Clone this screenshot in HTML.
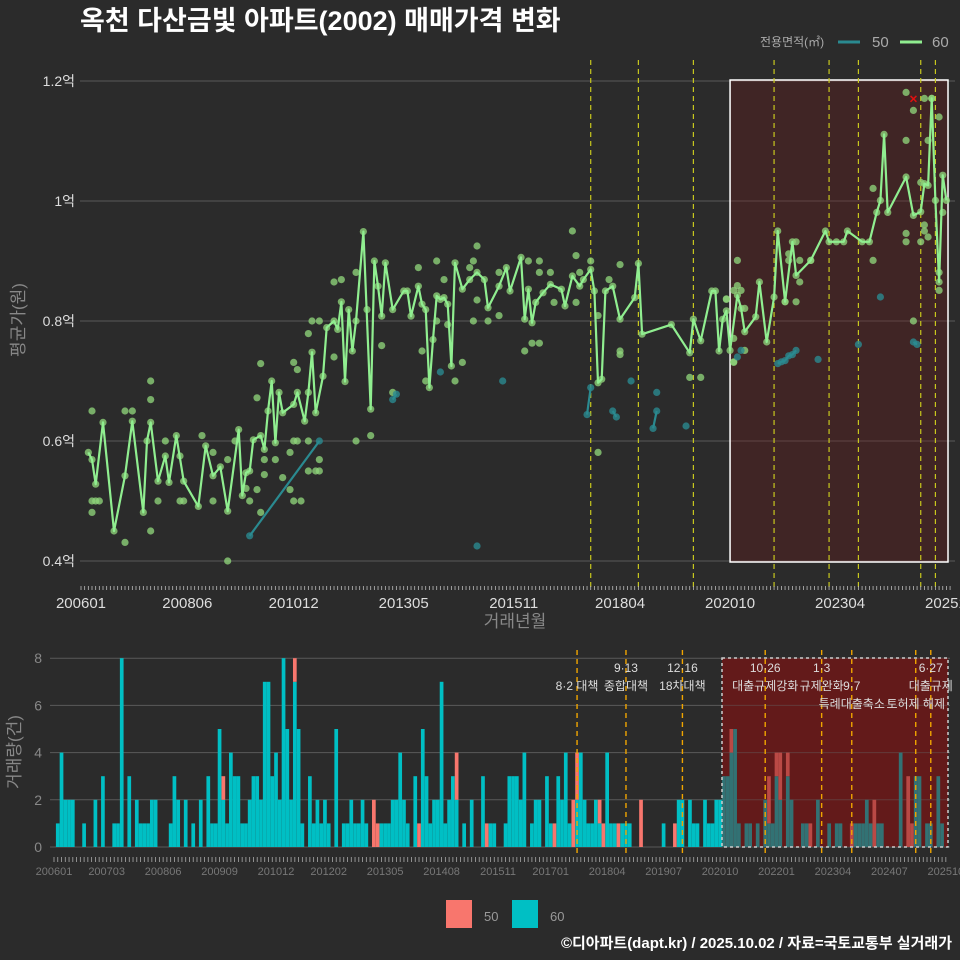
<!DOCTYPE html>
<html><head><meta charset="utf-8">
<style>
html,body{margin:0;padding:0;background:#2b2b2b;}
svg{display:block;font-family:"Liberation Sans","Noto Sans CJK KR",sans-serif;}
</style></head>
<body>
<svg id="chart" width="960" height="960" viewBox="0 0 960 960" xmlns="http://www.w3.org/2000/svg">
<rect x="0" y="0" width="960" height="960" fill="#2b2b2b"/>
<text x="80" y="30" fill="#ffffff" font-size="27" font-weight="bold">옥천 다산금빛 아파트(2002) 매매가격 변화</text>
<g>
<text x="760" y="46" fill="#aaaaaa" font-size="12">전용면적(㎡)</text>
<line x1="838" y1="42" x2="860" y2="42" stroke="#2a8a90" stroke-width="3"/>
<text x="872" y="47" fill="#aaaaaa" font-size="15">50</text>
<line x1="900" y1="42" x2="922" y2="42" stroke="#90ee90" stroke-width="3"/>
<text x="932" y="47" fill="#aaaaaa" font-size="15">60</text>
</g>
<g id="topPanel"></g>
<g id="botPanel"></g>
<g>
<rect x="446" y="900" width="26" height="28" fill="#f8766d"/>
<text x="484" y="921" fill="#999999" font-size="13">50</text>
<rect x="512" y="900" width="26" height="28" fill="#00bfc4"/>
<text x="550" y="921" fill="#999999" font-size="13">60</text>
</g>
<text x="952" y="948" text-anchor="end" fill="#ffffff" font-size="15" font-weight="bold">©디아파트(dapt.kr) / 2025.10.02 / 자료=국토교통부 실거래가</text>
</svg>
<script>
// ---- data ----
const topTickMonths = [0,29,58,88,118,147,177,207,237];
const topTickLabels = ["200601","200806","201012","201305","201511","201804","202010","202304","202510"];
const yTickVals = [0.4,0.6,0.8,1.0,1.2];
const yTickLabels = ["0.4억","0.6억","0.8억","1억","1.2억"];
const eventMonths = [139,152,167,189,204,212,229,233];
const line60Months = [2,3,4,6,9,12,14,17,18,19,21,23,24,26,28,32,34,36,38,40,43,44,45,46,47,49,50,51,52,53,54,55,58,59,61,62,63,64,66,67,69,70,71,72,73,74,75,77,79,80,81,82,83,85,88,89,90,92,93,94,95,96,97,98,99,100,101,102,104,106,108,110,111,114,116,117,120,121,122,123,124,126,128,131,132,134,136,137,139,140,141,142,143,145,147,151,152,153,161,166,167,169,172,173,174,175,176,177,179,180,181,184,185,187,189,190,192,194,195,199,203,204,206,208,209,213,215,217,218,219,220,225,227,229,230,231,232,233,234,235,236];
const line60Vals = [.581,.569,.528,.631,.450,.542,.633,.481,.600,.631,.533,.575,.531,.609,.533,.491,.592,.542,.557,.483,.619,.509,.547,.550,.602,.609,.586,.650,.700,.597,.681,.647,.661,.681,.633,.681,.748,.647,.708,.789,.800,.786,.832,.699,.819,.750,.800,.949,.653,.900,.858,.808,.897,.819,.850,.850,.808,.858,.828,.819,.689,.769,.842,.836,.839,.828,.725,.897,.853,.869,.881,.869,.822,.858,.889,.850,.906,.803,.853,.797,.831,.847,.861,.853,.825,.875,.858,.869,.886,.850,.697,.703,.850,.858,.803,.839,.896,.778,.794,.747,.803,.767,.850,.850,.750,.803,.817,.751,.843,.821,.782,.807,.865,.765,.840,.950,.832,.932,.876,.901,.950,.932,.932,.932,.950,.932,.932,.981,1.001,1.111,.981,1.040,.976,.982,1.029,1.026,1.171,1.001,.865,1.043,1.001];
const dot60Months = [3,3,4,5,3,12,14,12,19,19,19,21,23,27,27,28,33,36,36,40,40,42,46,45,48,49,48,49,50,50,53,55,57,58,60,57,58,59,62,62,64,65,65,58,59,62,63,65,69,71,75,69,75,79,82,78,85,92,93,94,97,99,97,100,102,104,108,106,107,107,108,111,114,114,121,122,125,125,123,125,128,129,134,135,136,135,139,141,141,144,147,147,147,166,169,176,178,176,179,178,180,179,181,178,181,178,193,193,195,196,196,192,195,199,216,216,225,227,225,225,225,229,230,230,231,231,229,230,232,234,234,234,227,235];
const dot60Vals = [.650,.500,.500,.500,.481,.650,.650,.431,.700,.669,.450,.500,.600,.575,.500,.500,.609,.581,.500,.569,.400,.600,.500,.521,.519,.481,.672,.729,.569,.544,.569,.539,.519,.500,.500,.581,.600,.600,.600,.550,.550,.550,.569,.731,.719,.779,.800,.800,.865,.869,.881,.740,.600,.609,.759,.819,.681,.889,.750,.700,.900,.869,.800,.794,.700,.731,.925,.889,.900,.800,.835,.800,.809,.881,.750,.900,.900,.881,.763,.763,.881,.831,.950,.909,.881,.831,.900,.809,.581,.869,.894,.750,.744,.706,.706,.836,.731,.837,.901,.851,.851,.859,.821,.771,.751,.732,.912,.901,.932,.901,.865,.832,.832,.901,1.021,.901,1.181,1.151,1.101,.946,.932,.932,.960,.950,.940,1.101,1.031,1.171,1.171,1.140,.881,.851,.800,.981];
const line50Months = [46,65,null,85,86,null,138,139,null,145,146,null,156,157,null,190,191,192,193,194,195,null,227,228];
const line50Vals = [.442,.600,null,.669,.678,null,.644,.689,null,.650,.640,null,.621,.650,null,.729,.732,.734,.742,.744,.751,null,.765,.761];
const dot50Months = [98,115,108,157,150,165,179,180,201,212,218];
const dot50Vals = [.715,.700,.425,.681,.700,.625,.740,.751,.736,.761,.840];
const maxMarkMonth = 227;
const maxMarkVal = 1.171;

const count60 = [0,1,4,2,2,2,0,0,1,0,0,2,0,3,0,0,1,1,8,0,3,0,2,1,1,1,2,2,0,0,0,1,3,2,0,2,0,1,0,2,0,3,1,1,5,2,1,4,3,3,1,1,2,3,3,2,7,7,3,4,2,8,5,2,7,5,1,0,3,1,2,1,2,1,0,5,0,1,1,2,1,1,2,1,0,0,0,1,1,1,2,2,4,2,1,0,3,0,5,3,1,2,2,7,1,2,3,2,0,1,0,2,0,0,3,0,1,1,0,0,1,3,3,3,2,4,0,1,2,2,0,3,1,0,3,2,4,1,0,2,4,2,1,1,2,1,0,4,1,1,0,1,1,1,0,0,0,0,0,0,0,0,1,0,0,0,2,2,0,2,1,1,0,2,1,1,2,2,3,3,4,5,1,0,1,1,0,1,0,2,1,1,3,2,0,3,2,0,0,1,1,0,0,2,0,0,1,0,1,1,0,0,0,1,1,1,2,1,0,1,1,0,0,0,0,4,0,0,0,3,3,0,1,1,0,3,1];
const count50 = [0,0,0,0,0,0,0,0,0,0,0,0,0,0,0,0,0,0,0,0,0,0,0,0,0,0,0,0,0,0,0,0,0,0,0,0,0,0,0,0,0,0,0,0,0,1,0,0,0,0,0,0,0,0,0,0,0,0,0,0,0,0,0,0,1,0,0,0,0,0,0,0,0,0,0,0,0,0,0,0,0,0,0,0,0,2,1,0,0,0,0,0,0,0,0,0,0,1,0,0,0,0,0,0,0,0,0,2,0,0,0,0,0,0,0,1,0,0,0,0,0,0,0,0,0,0,0,0,0,0,0,0,0,1,0,0,0,0,2,2,0,0,0,0,0,1,1,0,0,0,1,0,0,0,0,0,2,0,0,0,0,0,0,0,0,1,0,0,0,0,0,0,0,0,0,0,0,0,0,0,1,0,0,0,0,0,0,0,0,0,2,0,1,2,0,1,0,0,0,0,0,1,0,0,0,0,0,0,0,0,0,0,1,0,0,0,0,0,2,0,0,0,0,0,0,0,0,3,1,0,0,0,0,0,0,0,0];
const botTickMonths = [0,14,29,44,59,73,88,103,118,132,147,162,177,192,207,222,237];
const botTickLabels = ["200601","200703","200806","200909","201012","201202","201305","201408","201511","201701","201804","201907","202010","202201","202304","202407","202510"];
const countTicks = [0,2,4,6,8];
const noteTexts = ["8·2 대책","9·13","종합대책","12·16","18차대책","10·26","대출규제강화","1·3","규제완화","9·7","특례대출축소","토허제 해제","6·27","대출규제"];
const noteMonths = [139,152,152,167,167,189,189,204,204,212,212,229,233,233];
const noteRows = [1,0,1,0,1,0,1,0,1,1,2,2,0,1];

// ---- helpers ----
const NS = "http://www.w3.org/2000/svg";
function mk(tag, attrs, parent) { const e = document.createElementNS(NS, tag); for (const k in attrs) e.setAttribute(k, attrs[k]); parent.appendChild(e); return e; }
const xT = m => 81 + 3.667 * m;
const yT = v => 561 - (v - 0.4) * 600;
const xB = m => 54 + 3.763 * m;
const yB = c => 847 - c * 23.6;
const topG = document.getElementById("topPanel");
const botG = document.getElementById("botPanel");

// ---- top panel ----
yTickVals.forEach((v, i) => {
  const g = mk("line", {x1: 80, x2: 955, y1: yT(v), y2: yT(v), stroke: "#5a5a5a", "stroke-width": 1}, topG);
  
  
  const t = mk("text", {x: 75, y: yT(v) + 5, "text-anchor": "end", fill: "#dddddd", "font-size": 14}, topG);
  t.textContent = yTickLabels[i];
  
  
});
const hl = mk("rect", {x: xT(177), y: 80, width: 948 - xT(177), height: 482, fill: "rgba(110,25,25,0.32)", stroke: "#ffffff", "stroke-width": 1.5}, topG);


eventMonths.forEach(m => {
  const l = mk("line", {x1: xT(m), x2: xT(m), y1: 60, y2: 590, stroke: "#c8c81e", "stroke-width": 1.2, "stroke-dasharray": "5,4"}, topG);
  
  
});
for (let m = 0; m <= 237; m++) {
  const tk = mk("line", {x1: xT(m), x2: xT(m), y1: 586, y2: 590, stroke: "#bbbbbb", "stroke-width": 0.8}, topG);
  
  
}
topTickMonths.forEach((m, i) => {
  const t = mk("text", {x: xT(m), y: 608, "text-anchor": "middle", fill: "#dddddd", "font-size": 15}, topG);
  t.textContent = topTickLabels[i];
  
  
});
const xt = mk("text", {x: 515, y: 627, "text-anchor": "middle", fill: "#888888", "font-size": 17}, topG);
xt.textContent = "거래년월";


const yt = mk("text", {x: 0, y: 0, "text-anchor": "middle", fill: "#888888", "font-size": 17, transform: "translate(24,320) rotate(-90)"}, topG);
yt.textContent = "평균가(원)";



dot60Months.forEach((m, i) => {
  const c = mk("circle", {cx: xT(m), cy: yT(dot60Vals[i]), r: 3.6, fill: "#8ed37a", "fill-opacity": 0.78}, topG);
  
  
});
line60Months.forEach((m, i) => {
  const c = mk("circle", {cx: xT(m), cy: yT(line60Vals[i]), r: 3.6, fill: "#8ed37a", "fill-opacity": 0.78}, topG);
  
  
});
dot50Months.forEach((m, i) => {
  const c = mk("circle", {cx: xT(m), cy: yT(dot50Vals[i]), r: 3.6, fill: "#2a8a90", "fill-opacity": 0.8}, topG);
  
  
});
let d50 = "", pen = false;
line50Months.forEach((m, i) => {
  if (m === null) { pen = false; return; }
  const c = mk("circle", {cx: xT(m), cy: yT(line50Vals[i]), r: 3.6, fill: "#2a8a90", "fill-opacity": 0.8}, topG);
  
  
  d50 += (pen ? "L" : "M") + xT(m).toFixed(1) + "," + yT(line50Vals[i]).toFixed(1);
  pen = true;
});
const p50 = mk("path", {d: d50, fill: "none", stroke: "#2a8a90", "stroke-width": 2.2}, topG);


const d60 = line60Months.map((m, i) => (i ? "L" : "M") + xT(m).toFixed(1) + "," + yT(line60Vals[i]).toFixed(1)).join("");
const p60 = mk("path", {d: d60, fill: "none", stroke: "#90ee90", "stroke-width": 2.2, "stroke-linejoin": "round"}, topG);


const mx = mk("text", {x: xT(maxMarkMonth), y: yT(maxMarkVal) + 5, "text-anchor": "middle", fill: "#e01010", "font-size": 14, "font-weight": "bold"}, topG);
mx.textContent = "×";



// ---- bottom panel ----
const bhl = mk("rect", {x: 722, y: 658, width: 226, height: 189, fill: "#5a2020"}, botG);


countTicks.forEach(c => {
  const g = mk("line", {x1: 50, x2: 950, y1: yB(c), y2: yB(c), stroke: "#5a5a5a", "stroke-width": 1}, botG);
  
  
  const t = mk("text", {x: 42, y: yB(c) + 5, "text-anchor": "end", fill: "#888888", "font-size": 14}, botG);
  t.textContent = c;
  
  
});
count60.forEach((c, m) => {
  const c5 = count50[m] || 0;
  if (c > 0) {
    const r = mk("rect", {x: xB(m) - 1.85, y: yB(c), width: 3.7, height: c * 23.6, fill: "#00bfc4"}, botG);
    
    
  }
  if (c5 > 0) {
    const r = mk("rect", {x: xB(m) - 1.85, y: yB(c + c5), width: 3.7, height: c5 * 23.6, fill: "#f8766d"}, botG);
    
    
  }
});
const ov = mk("rect", {x: 722, y: 658, width: 226, height: 189, fill: "rgba(110,20,20,0.45)", stroke: "#cccccc", "stroke-width": 1.5, "stroke-dasharray": "3,3"}, botG);


eventMonths.forEach(m => {
  const l = mk("line", {x1: xB(m), x2: xB(m), y1: 650, y2: 857, stroke: "#f0a500", "stroke-width": 1.4, "stroke-dasharray": "5,4"}, botG);
  
  
});
noteTexts.forEach((s, i) => {
  const t = mk("text", {x: xB(noteMonths[i]), y: 672 + noteRows[i] * 18, "text-anchor": "middle", fill: "#dddddd", "font-size": 12}, botG);
  t.textContent = s;
  
  
});
for (let m = 0; m <= 237; m++) {
  const tk = mk("line", {x1: xB(m), x2: xB(m), y1: 857, y2: 862, stroke: "#aaaaaa", "stroke-width": 0.8}, botG);
  
  
}
botTickMonths.forEach((m, i) => {
  const t = mk("text", {x: xB(m), y: 875, "text-anchor": "middle", fill: "#777777", "font-size": 11}, botG);
  t.textContent = botTickLabels[i];
  
  
});
const yt2 = mk("text", {x: 0, y: 0, "text-anchor": "middle", fill: "#888888", "font-size": 17, transform: "translate(20,752) rotate(-90)"}, botG);
yt2.textContent = "거래량(건)";


</script>
</body></html>
